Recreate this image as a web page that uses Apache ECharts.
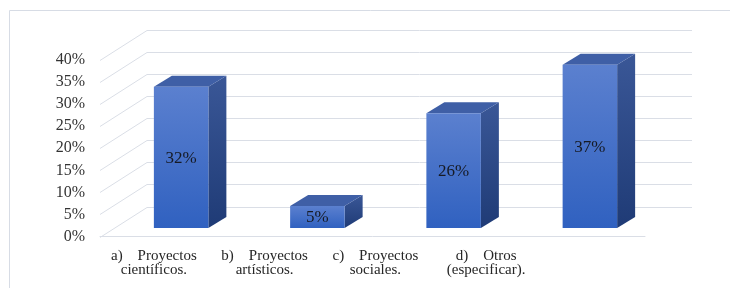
<!DOCTYPE html>
<html>
<head>
<meta charset="utf-8">
<script src="https://cdn.jsdelivr.net/npm/echarts@6/dist/echarts.min.js"></script>
<style>
  html, body { margin: 0; padding: 0; background: #fff; }
  #chart { width: 730px; height: 288px; }
</style>
</head>
<body>
<div id="chart"></div>
<script>
// data
var categories = ['a)    Proyectos\ncientíficos.', 'b)    Proyectos\nartísticos.', 'c)    Proyectos\nsociales.', 'd)    Otros\n(especificar).'];
var values = [32, 5, 26, 37];
var yTicks = [0, 5, 10, 15, 20, 25, 30, 35, 40];

// fake 3d look
var DEPTH = [47, -30];    // floor / side wall depth
var FRONT = [13, -8.5];   // bar front face pushed back into the floor
var BAR_D = [18, -11];    // bar thickness
var GRID_COLOR = '#dadee6';
var SERIF = '"Liberation Serif", "Times New Roman", serif';

function renderGridLine(params, api) {
  var cs = params.coordSys;
  var y = Math.round(api.coord([0, api.value(1)])[1]) + 0.5;
  var x0 = cs.x, x1 = cs.x + cs.width;
  return {
    type: 'polyline',
    silent: true,
    shape: { points: [[x0, y], [x0 + DEPTH[0], y + DEPTH[1]], [x1 + DEPTH[0], y + DEPTH[1]]] },
    style: { stroke: GRID_COLOR, lineWidth: 1, fill: null }
  };
}

function renderBar(params, api) {
  var i = api.value(0), v = api.value(1);
  var base = api.coord([i, 0]);
  var top = api.coord([i, v]);
  var hw = api.size([1, 0])[0] * 0.2;
  var xl = base[0] - hw + FRONT[0], xr = base[0] + hw + FRONT[0];
  var yb = base[1] + FRONT[1], yt = top[1] + FRONT[1];
  var dx = BAR_D[0], dy = BAR_D[1];
  return {
    type: 'group',
    children: [
      { // right side
        type: 'polygon',
        shape: { points: [[xr, yt], [xr + dx, yt + dy], [xr + dx, yb + dy], [xr, yb]] },
        style: { fill: new echarts.graphic.LinearGradient(0, 0, 0, 1, [
          { offset: 0, color: '#3a5797' }, { offset: 1, color: '#1f3b76' }]) }
      },
      { // top
        type: 'polygon',
        shape: { points: [[xl, yt], [xl + dx, yt + dy], [xr + dx, yt + dy], [xr, yt]] },
        style: { fill: '#3f5fa6' }
      },
      { // front
        type: 'rect',
        shape: { x: xl, y: yt, width: xr - xl, height: yb - yt },
        style: { fill: new echarts.graphic.LinearGradient(0, 0, 0, 1, [
          { offset: 0, color: '#5b80cf' }, { offset: 1, color: '#3061c0' }]) }
      },
      {
        type: 'text',
        style: {
          text: v + '%', x: (xl + xr) / 2, y: (yt + yb) / 2 + 1,
          align: 'center', verticalAlign: 'middle',
          font: '17px ' + SERIF, fill: '#161a24'
        }
      }
    ]
  };
}

var chart = echarts.init(document.getElementById('chart'));
chart.setOption({
  animation: false,
  graphic: [{
    type: 'rect', silent: true,
    shape: { x: 9.5, y: 10.5, width: 760, height: 320 },
    style: { fill: null, stroke: '#d7dce5', lineWidth: 1 }
  }],
  grid: [
    { left: 100, right: 85, top: 60, bottom: 51.5 },
    // labels sit on their own, narrower band, as in the picture
    { left: 98.5, right: 188.5, top: 60, bottom: 51.5 }
  ],
  xAxis: [{
    type: 'category', gridIndex: 0, data: categories,
    axisTick: { show: false },
    axisLabel: { show: false },
    axisLine: { lineStyle: { color: GRID_COLOR, width: 1 } }
  }, {
    type: 'category', gridIndex: 1, data: categories,
    axisTick: { show: false },
    axisLine: { show: false },
    axisLabel: { margin: 12, lineHeight: 14.5, fontSize: 15, fontFamily: SERIF, color: '#262626', interval: 0 }
  }],
  yAxis: [{
    type: 'value', gridIndex: 0, min: 0, max: 40, interval: 5,
    axisLine: { show: false }, axisTick: { show: false },
    splitLine: { show: false },
    axisLabel: { formatter: '{value}%', margin: 15, fontSize: 16, fontFamily: SERIF, color: '#333333' }
  }, {
    type: 'value', gridIndex: 1, show: false
  }],
  series: [{
    type: 'custom', name: 'grid', z: 1,
    xAxisIndex: 0, yAxisIndex: 0,
    renderItem: renderGridLine,
    data: yTicks.map(function (t) { return [0, t]; })
  }, {
    type: 'custom', name: 'bars', z: 3,
    xAxisIndex: 0, yAxisIndex: 0,
    renderItem: renderBar,
    data: values.map(function (v, i) { return [i, v]; })
  }]
});
</script>
</body>
</html>
